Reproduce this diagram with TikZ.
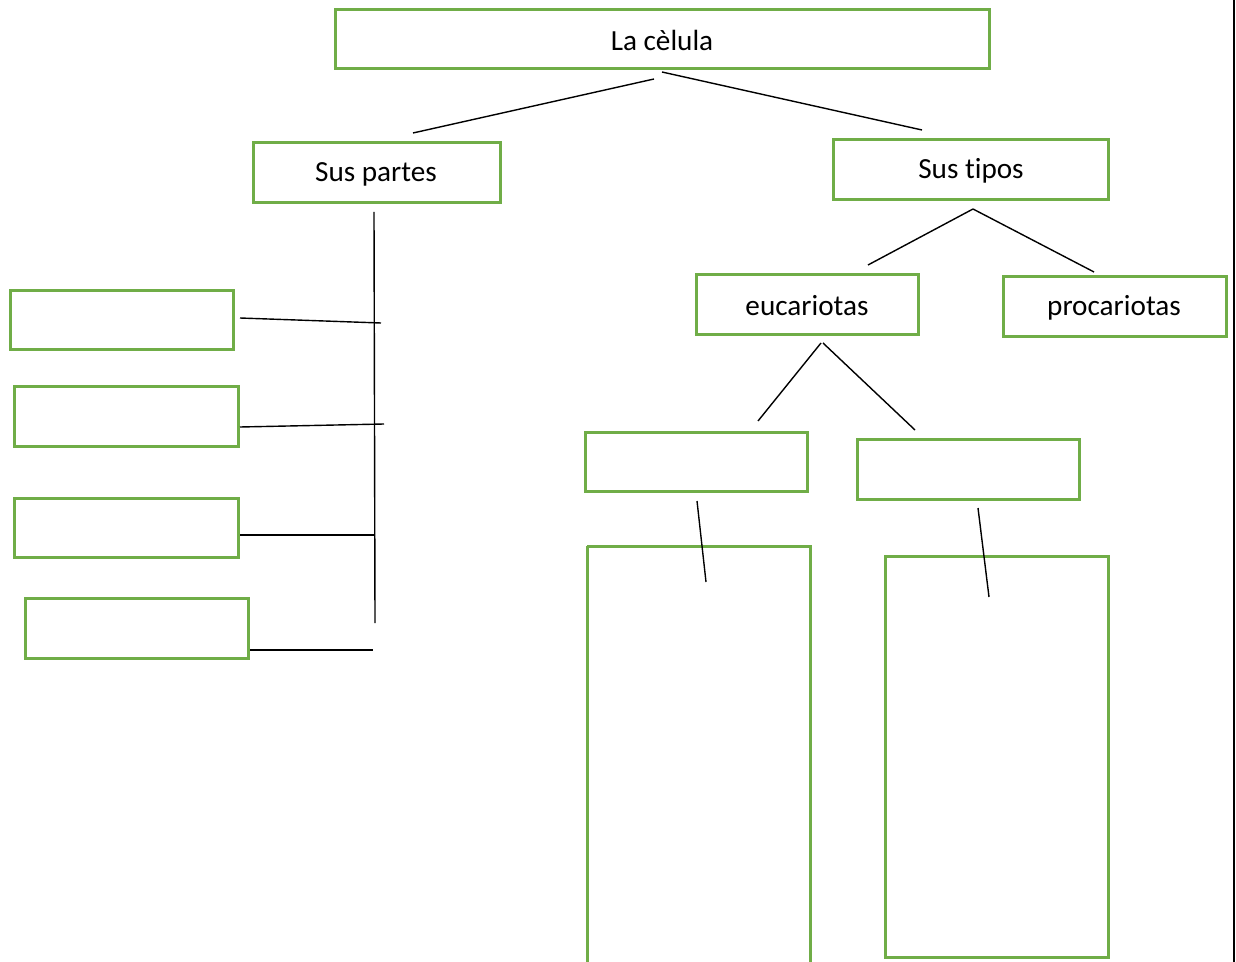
\documentclass[tikz,border=0pt]{standalone}
\usepackage{fontspec}
\setmainfont[Ligatures={NoCommon}]{Carlito}
\definecolor{boxgreen}{HTML}{70AD47}
\begin{document}
\begin{tikzpicture}[x=0.5pt,y=-0.5pt,
  gbox/.style={draw=boxgreen,line width=1.5pt,inner sep=0pt},
  conn/.style={draw=black,line width=0.7pt},
  lbl/.style={font=\fontsize{14.6}{17}\selectfont}]
\useasboundingbox (0,0) rectangle (1236,962);
% boxes
\draw[gbox] (335,10) rectangle (989,69);
\node[lbl] (celula) at (662,40) {La cèlula};
\draw[gbox] (253,143) rectangle (500,203);
\node[lbl] (partes) at (376,174) {Sus partes};
\draw[gbox] (833,140) rectangle (1108,200);
\node[lbl] (tipos) at (971,171) {Sus tipos};
\draw[gbox] (696,275) rectangle (918,335);
\node[lbl] (euc) at (807,306) {eucariotas};
\draw[gbox] (1003,277) rectangle (1226,337);
\node[lbl] (proc) at (1114,308) {procariotas};
\draw[gbox] (585,432) rectangle (807,491);
\draw[gbox] (857,439) rectangle (1079,499);
\draw[gbox] (587,546) -- (587,966) (810,966) -- (810,546) -- (587,546);
\draw[gbox] (885,556) rectangle (1108,957);
\draw[gbox] (10,291) rectangle (233,350);
\draw[gbox] (14,387) rectangle (238,446);
\draw[gbox] (14,498) rectangle (238,557);
\draw[gbox] (25,598) rectangle (248,658);
% connector points
\coordinate (c1a) at (654,79); \coordinate (c1b) at (413,133);
\coordinate (c2a) at (662,72); \coordinate (c2b) at (922,130);
\coordinate (t1a) at (973,209); \coordinate (t1b) at (868,265);
\coordinate (t2b) at (1094,272);
\coordinate (e1a) at (821,343); \coordinate (e1b) at (758,421);
\coordinate (e2a) at (823,343); \coordinate (e2b) at (915,430);
\coordinate (a1) at (697,501); \coordinate (a2) at (706,582);
\coordinate (b1) at (978,508); \coordinate (b2) at (989,597);
\coordinate (vtop) at (374,212); \coordinate (vbot) at (375,623);
\coordinate (h1a) at (240,318); \coordinate (h1b) at (381,323);
\coordinate (h2a) at (240,427); \coordinate (h2b) at (384,424);
\coordinate (h3a) at (240,535); \coordinate (h3b) at (374,535);
\coordinate (h4a) at (250,650); \coordinate (h4b) at (373,650);
\coordinate (edgetop) at (1234,0); \coordinate (edgebot) at (1234,962);
% connectors
\draw[conn] (c1a) -- (c1b);
\draw[conn] (c2a) -- (c2b);
\draw[conn] (t1a) -- (t1b);
\draw[conn] (t1a) -- (t2b);
\draw[conn] (e1a) -- (e1b);
\draw[conn] (e2a) -- (e2b);
\draw[conn] (a1) -- (a2);
\draw[conn] (b1) -- (b2);
\draw[conn] (vtop) -- (vbot);
\draw[conn] (h1a) -- (h1b);
\draw[conn] (h2a) -- (h2b);
\draw[conn] (h3a) -- (h3b);
\draw[conn] (h4a) -- (h4b);
\draw[draw=black,line width=1.2pt] (edgetop) -- (edgebot);
\end{tikzpicture}
\end{document}
